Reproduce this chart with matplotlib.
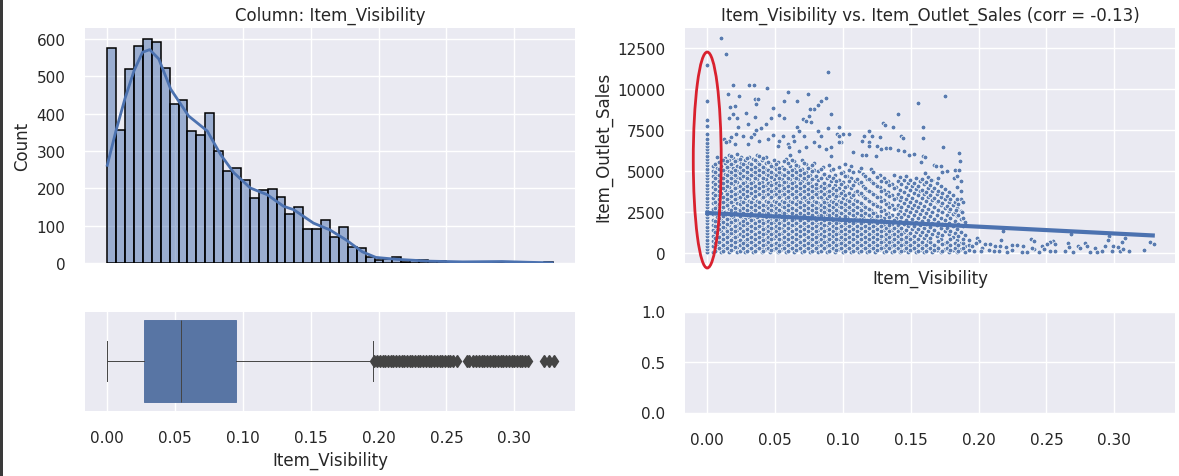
import matplotlib
matplotlib.use("Agg")
import matplotlib.pyplot as plt
from matplotlib.patches import Ellipse, Rectangle

# histogram, 50 bins over the column range
vis_min = 0.0
vis_max = 0.3284
hist_counts = [576, 357, 520, 581, 600, 592, 522, 425, 436, 355, 344, 403, 300, 247, 255, 223, 174, 195, 198, 177,
               132, 150, 91, 91, 116, 69, 96, 43, 40, 15, 7, 10, 16, 4, 8, 7, 6, 6, 3, 2,
               2, 3, 2, 3, 3, 2, 2, 1, 0, 2]
kde_x = [0, 0.0064, 0.013, 0.0198, 0.026, 0.0313, 0.038, 0.0468, 0.06, 0.0737, 0.0835, 0.0933, 0.1055, 0.118, 0.13,
         0.1374, 0.152, 0.164, 0.176, 0.188, 0.198, 0.213, 0.237, 0.262, 0.291, 0.31, 0.328]
kde_y = [262, 354, 440, 516, 565, 572, 547, 466, 394, 354, 291, 242, 201, 183, 152,
         143, 107, 89, 62, 30, 15, 10, 5, 3, 4, 2, 0.5]

# box plot
box_q1 = 0.027
box_med = 0.0541
box_q3 = 0.0946
whisker_lo = 0.0
whisker_hi = 0.196
fliers = [0.197, 0.199, 0.201, 0.203, 0.205, 0.207, 0.209, 0.211, 0.213, 0.215, 0.217, 0.219, 0.221, 0.223, 0.225,
          0.227, 0.229, 0.2305, 0.233, 0.235, 0.237, 0.239, 0.241, 0.243, 0.245, 0.247, 0.249, 0.251, 0.253, 0.255,
          0.2575, 0.265, 0.267, 0.2695, 0.272, 0.274, 0.276, 0.278, 0.28, 0.282, 0.284, 0.286, 0.288, 0.29, 0.292,
          0.294, 0.296, 0.298, 0.3, 0.302, 0.304, 0.306, 0.308, 0.31, 0.3217, 0.326, 0.3295]

# scatter: x = 0 column
zero_y = [60, 250, 450, 640, 840, 1040, 1230, 1430, 1630, 1820, 2020, 2220, 2420, 2610, 2810, 3000, 3200, 3400, 3600,
          3790, 3990, 4190, 4380, 4580, 4780, 4970, 5170, 5370, 5560, 5760, 5960, 6150, 6350, 6550, 6750, 6950, 7280,
          7746, 8112, 9270, 11466]

# scatter: dense cloud, one list of sales per visibility column
cloud_x = [0.004, 0.007, 0.010, 0.013, 0.016, 0.019, 0.022, 0.025, 0.028, 0.031, 0.034, 0.037, 0.040, 0.043, 0.046,
           0.049, 0.052, 0.055, 0.058, 0.061, 0.064, 0.067, 0.070, 0.073, 0.076, 0.079, 0.082, 0.085, 0.088, 0.091,
           0.094, 0.097, 0.100, 0.103, 0.106, 0.109, 0.112, 0.115, 0.118, 0.121, 0.124, 0.127, 0.130, 0.133, 0.136,
           0.139, 0.142, 0.145, 0.148, 0.151, 0.154, 0.157, 0.160, 0.163, 0.166, 0.169, 0.172, 0.175, 0.178, 0.181,
           0.184, 0.187, 0.190, 0.193]
cloud_y = [
    [90, 420, 760, 1080, 1400, 1750, 2060, 2390, 2710, 3050, 3380, 3700, 4040, 4370, 4700, 5020, 5300],
    [250, 590, 900, 1240, 1560, 1900, 2230, 2540, 2880, 3210, 3530, 3870, 4200, 4520, 4860, 5190, 5480, 5860],
    [70, 410, 730, 1070, 1390, 1720, 2050, 2370, 2700, 3040, 3360, 3690, 4020, 4350, 4680, 5010, 5330, 5660],
    [240, 570, 890, 1230, 1560, 1880, 2210, 2550, 2870, 3200, 3520, 3860, 4190, 4510, 4850, 5170, 5500, 5790],
    [100, 430, 760, 1090, 1410, 1740, 2080, 2400, 2720, 3060, 3380, 3710, 4050, 4370, 4690, 5030, 5350, 5680, 6020],
    [260, 580, 920, 1240, 1570, 1900, 2220, 2560, 2880, 3210, 3540, 3860, 4200, 4530, 4850, 5180, 5510, 5840],
    [80, 410, 740, 1070, 1400, 1720, 2060, 2380, 2710, 3040, 3370, 3690, 4030, 4360, 4680, 5010, 5340, 5670, 6050],
    [230, 570, 900, 1220, 1550, 1890, 2210, 2530, 2870, 3190, 3520, 3850, 4180, 4510, 4840, 5160, 5500, 5900],
    [110, 440, 760, 1100, 1420, 1750, 2070, 2400, 2730, 3060, 3390, 3720, 4040, 4370, 4700, 5030, 5360, 5700],
    [270, 600, 920, 1260, 1580, 1910, 2240, 2560, 2890, 3220, 3550, 3880, 4210, 4530, 4860, 5200, 5520, 5880],
    [90, 420, 750, 1080, 1400, 1730, 2060, 2390, 2720, 3050, 3380, 3700, 4030, 4360, 4690, 5020, 5350, 5750],
    [250, 580, 910, 1240, 1570, 1890, 2220, 2550, 2880, 3210, 3530, 3860, 4190, 4520, 4850, 5180, 5560, 6000],
    [70, 400, 730, 1060, 1390, 1720, 2050, 2380, 2700, 3030, 3360, 3690, 4020, 4350, 4680, 5010, 5340, 5720],
    [240, 570, 900, 1230, 1560, 1880, 2210, 2540, 2870, 3200, 3530, 3860, 4190, 4510, 4840, 5170, 5500, 5860],
    [100, 430, 760, 1080, 1410, 1740, 2070, 2400, 2730, 3060, 3380, 3710, 4040, 4370, 4700, 5030, 5420],
    [260, 590, 920, 1250, 1570, 1900, 2230, 2560, 2890, 3220, 3550, 3880, 4200, 4530, 4860, 5240, 5700],
    [80, 410, 740, 1070, 1400, 1730, 2060, 2380, 2710, 3040, 3370, 3700, 4030, 4360, 4690, 5050, 5550],
    [240, 570, 900, 1230, 1550, 1880, 2210, 2540, 2870, 3200, 3530, 3860, 4190, 4510, 4840, 5260],
    [90, 420, 750, 1080, 1410, 1740, 2070, 2400, 2720, 3050, 3380, 3710, 4040, 4370, 4700, 5100, 5780],
    [260, 590, 920, 1250, 1580, 1910, 2240, 2570, 2890, 3220, 3550, 3880, 4210, 4540, 4870, 5330, 5990],
    [70, 400, 730, 1060, 1390, 1720, 2050, 2380, 2710, 3040, 3360, 3690, 4020, 4350, 4680, 5160, 5600],
    [240, 570, 900, 1230, 1560, 1890, 2220, 2550, 2880, 3210, 3530, 3860, 4190, 4520, 4850, 5300],
    [100, 430, 760, 1090, 1420, 1750, 2080, 2410, 2740, 3070, 3390, 3720, 4050, 4380, 4710, 5150, 5680],
    [260, 590, 920, 1250, 1580, 1910, 2240, 2570, 2900, 3230, 3560, 3880, 4210, 4540, 4960, 5420],
    [80, 410, 740, 1070, 1400, 1730, 2060, 2390, 2720, 3050, 3380, 3710, 4040, 4370, 4750, 5250],
    [230, 560, 890, 1220, 1550, 1880, 2210, 2540, 2870, 3200, 3530, 3860, 4190, 4600, 5060, 5530],
    [110, 440, 770, 1100, 1430, 1760, 2090, 2420, 2750, 3080, 3410, 3740, 4070, 4480, 5000],
    [270, 600, 930, 1260, 1590, 1920, 2250, 2580, 2910, 3240, 3570, 3900, 4290, 4780, 5260],
    [90, 420, 750, 1080, 1410, 1740, 2070, 2400, 2730, 3060, 3390, 3720, 4100, 4620],
    [250, 580, 910, 1240, 1570, 1900, 2230, 2560, 2890, 3220, 3550, 3880, 4380, 5060],
    [70, 400, 730, 1060, 1390, 1720, 2050, 2380, 2710, 3040, 3370, 3700, 4180, 4760],
    [240, 570, 900, 1230, 1560, 1890, 2220, 2550, 2880, 3210, 3540, 3960, 4500, 5240],
    [100, 430, 760, 1090, 1420, 1750, 2080, 2410, 2740, 3070, 3400, 3790, 4340, 4980],
    [260, 590, 920, 1250, 1580, 1910, 2240, 2570, 2900, 3230, 3600, 4120, 4720],
    [80, 410, 740, 1070, 1400, 1730, 2060, 2390, 2720, 3050, 3450, 3980, 4610, 5320],
    [230, 560, 890, 1220, 1550, 1880, 2210, 2540, 2870, 3260, 3760, 4400],
    [100, 430, 760, 1090, 1420, 1750, 2080, 2410, 2740, 3100, 3620, 4260, 5010],
    [260, 590, 920, 1250, 1580, 1910, 2240, 2570, 2960, 3480, 4100, 4820],
    [80, 410, 740, 1070, 1400, 1730, 2060, 2390, 2780, 3290, 3880, 4560],
    [240, 570, 900, 1230, 1560, 1890, 2220, 2640, 3140, 3730, 4380, 5120],
    [100, 430, 760, 1090, 1420, 1750, 2080, 2470, 2980, 3580, 4220],
    [260, 590, 920, 1250, 1580, 1910, 2300, 2820, 3420, 4060, 4780],
    [80, 410, 740, 1070, 1400, 1730, 2150, 2660, 3260, 3880, 4610],
    [240, 570, 900, 1230, 1560, 1950, 2470, 3080, 3720, 4440],
    [100, 430, 760, 1090, 1420, 1790, 2310, 2920, 3560, 4240],
    [260, 590, 920, 1250, 1620, 2140, 2760, 3400, 4070],
    [80, 410, 740, 1070, 1450, 1980, 2600, 3230, 3890, 4650],
    [230, 560, 890, 1270, 1800, 2420, 3060, 3730, 4480],
    [100, 430, 760, 1100, 1640, 2260, 2900, 3550, 4300],
    [250, 580, 920, 1460, 2080, 2740, 3370, 4130],
    [80, 410, 750, 1280, 1900, 2560, 3200, 3950, 4620],
    [230, 560, 1100, 1730, 2380, 3040, 3780, 4380],
    [100, 430, 930, 1560, 2220, 2880, 3610, 4200],
    [260, 740, 1380, 2040, 2700, 3440, 4010, 4640],
    [80, 570, 1200, 1860, 2540, 3270, 3820, 4470],
    [230, 400, 1040, 1700, 2360, 3100, 3640, 4280],
    [100, 850, 1520, 2180, 2940, 3460, 4100],
    [260, 660, 1340, 2020, 2760, 3300, 3920],
    [90, 480, 1160, 1840, 2580, 3120, 3750],
    [230, 980, 1660, 2420, 2940, 3580],
    [100, 400, 800, 1480, 2260, 2780],
    [250, 620, 1300, 2080, 2600, 3340],
    [90, 440, 1120, 1900],
    [210, 520, 830],
]

# second, looser pass over the cloud, between the first columns
fill_x = [0.0056, 0.0083, 0.0118, 0.0142, 0.0177, 0.0203, 0.0238, 0.0261, 0.0296, 0.0324, 0.0352, 0.0383, 0.0414,
          0.0447, 0.0471, 0.0506, 0.0532, 0.0567, 0.0593, 0.0628, 0.0651, 0.0684, 0.0712, 0.0746, 0.0773, 0.0802,
          0.0835, 0.0861, 0.0897, 0.0924, 0.0951, 0.0986, 0.1013, 0.1044, 0.1072, 0.1103, 0.1136, 0.1161, 0.1194,
          0.1223, 0.1254, 0.1282, 0.1317, 0.1342, 0.1373, 0.1406, 0.1431, 0.1467, 0.1492, 0.1524, 0.1553, 0.1581,
          0.1616, 0.1643, 0.1674, 0.1702, 0.1733, 0.1764, 0.1793, 0.1825, 0.1852, 0.1884]
fill_y = [
    [170, 610, 930, 1310, 1660, 1980, 2470, 2790, 3150, 3560, 3920, 4230, 4610, 4950, 5440],
    [330, 720, 1000, 1490, 1810, 2140, 2620, 2980, 3290, 3770, 4120, 4440, 4770, 5120, 5590],
    [150, 500, 860, 1160, 1630, 1940, 2300, 2810, 3120, 3450, 3960, 4290, 4590, 5080, 5720],
    [320, 680, 1020, 1340, 1790, 2110, 2460, 2950, 3290, 3610, 4090, 4420, 4760, 5260, 5640],
    [190, 530, 840, 1240, 1510, 1880, 2320, 2640, 3140, 3470, 3800, 4270, 4610, 4930, 5460, 5940],
    [360, 690, 1010, 1390, 1680, 2040, 2490, 2790, 3310, 3630, 3970, 4420, 4780, 5090, 5610],
    [140, 510, 830, 1180, 1560, 1840, 2290, 2620, 2990, 3460, 3780, 4130, 4590, 4920, 5270, 5780],
    [310, 660, 1040, 1350, 1710, 1990, 2450, 2780, 3130, 3600, 3940, 4270, 4720, 5070, 5420],
    [170, 530, 860, 1190, 1500, 1850, 2320, 2640, 2970, 3480, 3810, 4120, 4620, 4970, 5290, 5810],
    [340, 700, 1010, 1370, 1660, 2020, 2480, 2800, 3130, 3650, 3970, 4300, 4790, 5130, 5460],
    [130, 490, 850, 1160, 1530, 1820, 2310, 2640, 2950, 3470, 3800, 4110, 4620, 4950, 5290, 5670],
    [300, 670, 1000, 1320, 1690, 1990, 2470, 2800, 3130, 3620, 3960, 4290, 4780, 5110, 5450, 5920],
    [160, 520, 840, 1170, 1510, 1830, 2290, 2630, 2960, 3450, 3770, 4130, 4600, 4940, 5260, 5830],
    [330, 690, 1010, 1340, 1680, 2000, 2460, 2780, 3140, 3610, 3950, 4280, 4770, 5090, 5590],
    [180, 500, 860, 1180, 1520, 1840, 2300, 2620, 2970, 3450, 3800, 4140, 4630, 4950, 5310],
    [350, 660, 1030, 1350, 1690, 2010, 2470, 2790, 3140, 3620, 3970, 4310, 4790, 5120, 5470],
    [170, 510, 870, 1180, 1530, 1850, 2310, 2630, 2980, 3460, 3810, 4150, 4620, 4960, 5230],
    [320, 680, 1020, 1340, 1700, 2020, 2480, 2800, 3150, 3630, 3980, 4320, 4790, 5130, 5640],
    [150, 500, 860, 1170, 1530, 1840, 2300, 2620, 2970, 3440, 3790, 4130, 4610, 4940, 5480],
    [310, 680, 1010, 1340, 1700, 2010, 2470, 2790, 3140, 3610, 3960, 4300, 4780, 5110, 5720],
    [180, 520, 860, 1190, 1510, 1850, 2310, 2640, 2980, 3450, 3800, 4130, 4590, 4950, 5410],
    [340, 670, 1030, 1350, 1680, 2020, 2480, 2810, 3150, 3620, 3970, 4300, 4770, 5080],
    [160, 500, 840, 1170, 1510, 1860, 2310, 2630, 2960, 3440, 3780, 4120, 4590, 4900, 5500],
    [330, 660, 1000, 1340, 1670, 2030, 2470, 2790, 3130, 3610, 3950, 4280, 4700, 5210],
    [150, 510, 860, 1180, 1520, 1860, 2320, 2630, 2970, 3440, 3790, 4100, 4540, 5030, 5380],
    [310, 680, 1020, 1350, 1690, 2030, 2490, 2790, 3120, 3610, 3960, 4240, 4690],
    [170, 520, 860, 1190, 1530, 1870, 2320, 2650, 2960, 3450, 3790, 4130, 4570, 5120],
    [340, 690, 1030, 1360, 1700, 2040, 2490, 2820, 3130, 3620, 3960, 4310, 4860],
    [170, 510, 870, 1180, 1510, 1860, 2310, 2630, 2970, 3470, 3810, 4180, 4720, 5360],
    [340, 680, 1040, 1350, 1680, 2030, 2480, 2800, 3140, 3640, 3990, 4620, 5150],
    [180, 510, 850, 1190, 1520, 1860, 2310, 2650, 2980, 3500, 3860, 4420],
    [340, 660, 1020, 1360, 1690, 2020, 2480, 2820, 3150, 3660, 4210, 4880],
    [160, 500, 860, 1170, 1510, 1830, 2300, 2650, 3000, 3530, 4060, 4690, 5450],
    [320, 670, 1010, 1340, 1680, 2000, 2470, 2810, 3170, 3680, 4390, 5110],
    [170, 520, 860, 1190, 1510, 1840, 2310, 2640, 2990, 3540, 4190, 4930],
    [330, 690, 1030, 1360, 1690, 2010, 2480, 2800, 3210, 3810, 4540],
    [150, 520, 870, 1190, 1520, 1850, 2320, 2640, 3040, 3650, 4330, 5190],
    [320, 680, 1010, 1350, 1690, 2020, 2470, 2810, 3360, 3990, 4690],
    [160, 510, 850, 1170, 1520, 1870, 2310, 2690, 3210, 3830, 4520],
    [330, 680, 1020, 1340, 1690, 2040, 2440, 3010, 3590, 4280, 4970],
    [180, 510, 860, 1180, 1510, 1870, 2290, 2860, 3440, 4130, 4680],
    [340, 680, 1030, 1350, 1680, 2030, 2560, 3170, 3810, 4440],
    [150, 520, 860, 1190, 1530, 1880, 2410, 3000, 3640, 4330],
    [330, 670, 1010, 1360, 1710, 2210, 2830, 3470, 4180],
    [170, 510, 860, 1170, 1540, 2060, 2690, 3310, 3990, 4790],
    [320, 670, 1030, 1350, 1720, 2370, 2960, 3640, 4400],
    [160, 500, 850, 1180, 1560, 2220, 2820, 3460, 4210],
    [340, 680, 1000, 1400, 2010, 2670, 3290, 4030, 4710],
    [180, 520, 850, 1210, 1850, 2500, 3140, 3860, 4450],
    [310, 670, 1040, 1670, 2320, 2960, 3690, 4260],
    [160, 520, 860, 1480, 2150, 2810, 3530, 4080],
    [330, 680, 1290, 1970, 2640, 3350, 3890, 4530],
    [170, 510, 1120, 1800, 2460, 3190, 3720, 4350],
    [310, 680, 960, 1620, 2290, 3010, 3540, 4170],
    [180, 530, 1430, 2110, 2850, 3380, 3990],
    [340, 740, 1260, 1930, 2670, 3210, 3830],
    [170, 560, 1090, 1760, 2490, 3040, 3650],
    [320, 710, 1570, 2320, 2860, 3480],
    [180, 480, 900, 1390, 2160, 2690, 3310],
    [340, 660, 1220, 1990, 2510, 3150],
    [170, 510, 1040, 1810, 2340, 2980],
    [320, 640, 870, 1640, 2160],
]

# scatter: sparse points above the cloud and the long right tail
sparse_x = [0.0103, 0.0137, 0.0887, 0.0189, 0.0306, 0.0343, 0.0439, 0.0152, 0.0233, 0.0593, 0.074, 0.0355, 0.0372,
            0.0564, 0.0659, 0.0875, 0.0838, 0.1556, 0.0814, 0.079, 0.0757, 0.0358, 0.0203, 0.0167, 0.0488, 0.0287,
            0.0189, 0.0527, 0.0564, 0.0909, 0.0355, 0.0752, 0.1409, 0.0159, 0.0218, 0.0125, 0.0176, 0.0213, 0.0225,
            0.0299, 0.0341, 0.036, 0.0397, 0.0434, 0.0471, 0.0483, 0.0556, 0.063, 0.0659, 0.0703, 0.0728, 0.0765,
            0.0814, 0.0838, 0.0679, 0.0642, 0.0532, 0.0446, 0.0385, 0.0324, 0.0262, 0.0164, 0.014, 0.0201, 0.0299,
            0.052, 0.0593, 0.0716, 0.0789, 0.0826, 0.0875, 0.0912, 0.0728, 0.0679, 0.0605,
            0.1292, 0.1309, 0.137, 0.1593, 0.1593, 0.1431, 0.1444, 0.1194, 0.1157, 0.1218, 0.1272, 0.1189, 0.114,
            0.1194, 0.1255, 0.1279, 0.1316, 0.1346, 0.1404, 0.1453, 0.1488, 0.1522, 0.0973, 0.0887, 0.096, 0.0998,
            0.1047, 0.0973, 0.0985, 0.0968, 0.0912, 0.1078, 0.114, 0.1169, 0.1243,
            0.1753, 0.1739, 0.1857, 0.1864, 0.159, 0.1602, 0.1575, 0.1674, 0.1684, 0.1723, 0.1826, 0.1857, 0.1768,
            0.1732, 0.17, 0.1872, 0.1818, 0.1843, 0.1604, 0.1651, 0.1843, 0.1872, 0.1887, 0.1843, 0.183, 0.1879,
            0.218, 0.199, 0.2, 0.2679, 0.2962, 0.308, 0.2387, 0.2407, 0.2165, 0.2552, 0.2527, 0.256, 0.2956, 0.3054,
            0.3262, 0.329, 0.205, 0.2087, 0.2124, 0.216, 0.2202, 0.2246, 0.2282, 0.2331, 0.2405, 0.2466, 0.2503,
            0.2564, 0.2527, 0.2662, 0.2667, 0.2637, 0.2698, 0.273, 0.2784, 0.2797, 0.2747, 0.2821, 0.2858, 0.287,
            0.2912, 0.2931, 0.2992, 0.298, 0.3046, 0.3029, 0.3108, 0.3066, 0.3216, 0.2148, 0.2111, 0.2074, 0.2025,
            0.2209, 0.2246, 0.2319, 0.2356, 0.2447, 0.2393, 0.2479, 0.197, 0.1955, 0.2015, 0.198]
sparse_y = [13113, 12157, 11039, 10246, 10287, 10246, 10063, 9697, 9575, 9819, 9697, 9392, 9392,
            9290, 9290, 9453, 9270, 9148, 9026, 8803, 8803, 9087, 8965, 8904, 8884, 8579,
            8498, 8416, 8233, 8498, 8335, 8396, 8498, 8253, 8253, 6950, 7075, 7280, 7685,
            7890, 7280, 7540, 7625, 7870, 8235, 7220, 7180, 7180, 7685, 8190, 8090, 7990,
            7480, 7180, 7480, 6870, 6870, 6970, 6870, 7075, 7180, 6870, 6770, 6670, 6670,
            6570, 6670, 7180, 6770, 6570, 6360, 5957, 6465, 6260, 6465,
            7930, 7850, 7685, 7685, 7014, 7180, 7010, 7440, 7180, 7135, 7095, 6770, 6830,
            6570, 6570, 6360, 6400, 6445, 6320, 6220, 6020, 6060, 7685, 7625, 7280, 7280,
            7260, 7135, 6810, 6770, 6465, 6160, 6020, 6020, 5957,
            9575, 6465, 6100, 5611, 5957, 5900, 5550, 5390, 5300, 5330, 5080, 5080, 5000,
            4940, 4570, 4390, 4570, 4700, 4880, 4470, 4030, 3780, 3130, 3310, 2660, 2500,
            1362, 915, 750, 1159, 1037, 915, 874, 752, 793, 772, 670, 549, 793, 711,
            711, 590, 590, 550, 470, 470, 390, 510, 510, 430, 265, 430, 570,
            165, 165, 630, 365, 165, 100, 470, 630, 430, 305, 60, 305, 100,
            165, 470, 470, 120, 120, 365, 165, 265, 180, 165, 165, 225, 345,
            100, 225, 60, 100, 100, 305, 265, 160, 420, 130, 620]

# regression line
reg_x = [0.0, 0.3284]
reg_y = [2460, 1090]

BLUE = "#4c72b0"
W, H = 1179, 477

plt.rcParams.update({
    "font.family": "DejaVu Sans",
    "axes.facecolor": "#eaeaf2",
    "axes.edgecolor": "white",
    "axes.linewidth": 0,
    "axes.grid": True,
    "axes.axisbelow": True,
    "grid.color": "white",
    "grid.linewidth": 1.0,
    "text.color": ".15",
    "axes.labelcolor": ".15",
    "xtick.color": ".15",
    "ytick.color": ".15",
    "xtick.major.size": 0,
    "ytick.major.size": 0,
    "xtick.major.pad": 14,
    "ytick.major.pad": 14,
    "xtick.labelsize": 11,
    "ytick.labelsize": 11,
    "axes.labelsize": 12,
    "axes.titlesize": 12,
})


def px_axes(fig, left, top, right, bottom):
    return fig.add_axes([left / W, 1 - bottom / H, (right - left) / W, (bottom - top) / H])


fig = plt.figure(figsize=(W / 100, H / 100), dpi=100)
fig.add_artist(Rectangle((0, 0), 3.3 / W, 1, transform=fig.transFigure, color="#3a3a3a", lw=0))

ax_hist = px_axes(fig, 85, 29, 575, 264)
ax_box = px_axes(fig, 85, 312.7, 575, 411.7)
ax_scat = px_axes(fig, 685, 29, 1175, 264)
ax_empty = px_axes(fig, 685, 312.5, 1175, 413.5)

xlim = (-0.0164, 0.3448)
xticks = [0, 0.05, 0.1, 0.15, 0.2, 0.25, 0.3]
xticklabels = ["0.00", "0.05", "0.10", "0.15", "0.20", "0.25", "0.30"]

# histogram + kde
bin_w = (vis_max - vis_min) / len(hist_counts)
edges = [vis_min + i * bin_w for i in range(len(hist_counts))]
ax_hist.bar(edges, hist_counts, width=bin_w, align="edge", color=(0.298, 0.447, 0.69, 0.5),
            edgecolor="black", linewidth=1.1)
ax_hist.plot(kde_x, kde_y, color=BLUE, lw=2)
ax_hist.set_xlim(xlim)
ax_hist.set_ylim(0, 630)
ax_hist.set_xticks(xticks)
ax_hist.set_xticklabels([])
ax_hist.set_yticks([0, 100, 200, 300, 400, 500, 600])
ax_hist.set_ylabel("Count")
ax_hist.set_title("Column: Item_Visibility", pad=6)

# box
stats = [{"med": box_med, "q1": box_q1, "q3": box_q3, "whislo": whisker_lo, "whishi": whisker_hi, "fliers": fliers}]
line = dict(color="#444444", lw=0.7)
ax_box.bxp(stats, positions=[0], widths=0.83, orientation="horizontal", patch_artist=True, manage_ticks=False,
           capwidths=0.41,
           boxprops=dict(facecolor="#5875a4", edgecolor="#5875a4", lw=0.7),
           medianprops=line, whiskerprops=line, capprops=line,
           flierprops=dict(marker="d", markerfacecolor="#444444", markeredgecolor="#444444", markersize=6.5))
ax_box.set_xlim(xlim)
ax_box.set_ylim(-0.5, 0.5)
ax_box.set_yticks([])
ax_box.set_xticks(xticks)
ax_box.set_xticklabels(xticklabels)
ax_box.set_xlabel("Item_Visibility")

# scatter
xs = [0.0] * len(zero_y)
ys = list(zero_y)
for x, col in zip(cloud_x + fill_x, cloud_y + fill_y):
    xs += [x] * len(col)
    ys += col
xs += sparse_x
ys += sparse_y
ax_scat.scatter(xs, ys, s=12, color="#5a7bb0", edgecolor="white", linewidth=0.5, zorder=2)
ax_scat.plot(reg_x, reg_y, color=BLUE, lw=3, zorder=3)
ax_scat.set_xlim(xlim)
ax_scat.set_ylim(-590, 13740)
ax_scat.set_xticks(xticks)
ax_scat.set_xticklabels([])
ax_scat.set_yticks([0, 2500, 5000, 7500, 10000, 12500])
ax_scat.set_xlabel("Item_Visibility", labelpad=-9.7)
ax_scat.set_ylabel("Item_Outlet_Sales")
ax_scat.set_title("Item_Visibility vs. Item_Outlet_Sales (corr = -0.13)", pad=6)
ax_scat.add_patch(Ellipse((0.0, 5690), 0.0206, 13170, fill=False, edgecolor="#d9212e", lw=2, clip_on=False, zorder=5))

# empty panel
ax_empty.set_xlim(xlim)
ax_empty.set_ylim(0, 1)
ax_empty.set_xticks(xticks)
ax_empty.set_xticklabels(xticklabels)
ax_empty.set_yticks([0, 0.5, 1])

fig.savefig("out.png", dpi=100)
